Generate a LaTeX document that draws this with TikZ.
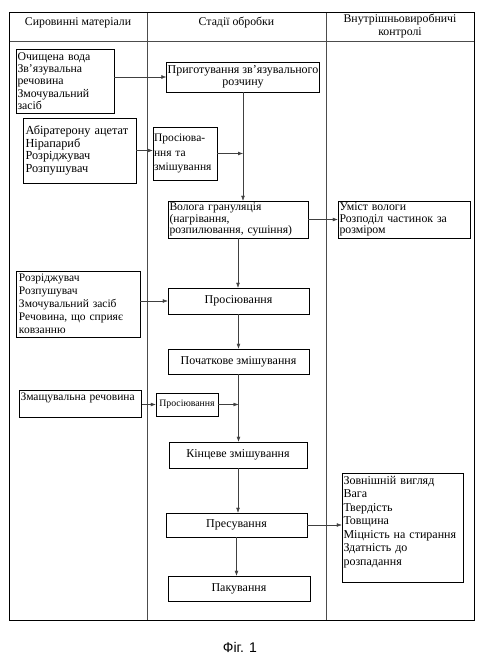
\documentclass[tikz,border=0pt]{standalone}
\usepackage{fontspec}
\setmainfont{Liberation Serif}
\newfontfamily\figfont{Liberation Sans}
\usetikzlibrary{arrows.meta, positioning}

\tikzset{
    stage/.style={draw=black, line width=0.5pt, inner sep=1pt, align=center},
    leftbox/.style={draw=black, line width=0.5pt, inner xsep=1.5pt, inner ysep=1pt, align=left},
    flow/.style={-{Latex[length=5pt, width=3.8pt]}, draw=black!75, line width=0.45pt},
    grid/.style={draw=black!70, line width=0.45pt},
    colhead/.style={align=center}
}

\begin{document}
\begin{tikzpicture}[x=1pt, y=-1pt, font=\fontsize{12}{12.8}\selectfont]
    \useasboundingbox (0,0) rectangle (486,664);

    % table frame and columns
    \draw[line width=0.9pt] (9.5,12.5) rectangle (474,620);
    \draw[grid] (9.5,41) -- (474,41);
    \draw[grid] (147,12.5) -- (147,620);
    \draw[grid] (326.5,12.5) -- (326.5,620);

    \node[colhead, font=\fontsize{11.8}{13}\selectfont] (h1) at (78,23) {Сировинні матеріали};
    \node[colhead, font=\fontsize{11.8}{13}\selectfont] (h2) at (236.5,23) {Стадії обробки};
    \node[colhead, font=\fontsize{11.8}{13}\selectfont] (h3) at (400,26.5) {Внутрішньовиробничі\\контролі};

    % raw materials
    \node[leftbox, text width=95pt, minimum height=64pt, font=\fontsize{11.8}{12.4}\selectfont] (boxA) at (65,81) {Очищена вода\\Зв’язувальна\\речовина\\Змочувальний\\засіб};
    \node[leftbox, inner xsep=2.5pt, text width=108pt, minimum height=65pt, font=\fontsize{12.3}{12.8}\selectfont] (boxB) at (79.5,150.5) {Абіратерону ацетат\\Нірапариб\\Розріджувач\\Розпушувач};
    \node[leftbox, inner xsep=3pt, text width=118pt, minimum height=66pt, font=\fontsize{11.5}{13}\selectfont] (boxC) at (78,304) {Розріджувач\\Розпушувач\\Змочувальний засіб\\Речовина, що сприяє\\ковзанню};
    \node[leftbox, anchor=north, inner xsep=1pt, text width=120pt, text height=9pt, text depth=16pt, font=\fontsize{11.5}{13}\selectfont] (boxD) at (80.5,390) {Змащувальна речовина};

    % processing stages
    \node[stage, minimum width=148pt, minimum height=30pt, font=\fontsize{12}{12.5}\selectfont] (prep) at (243,77) {Приготування зв’язувального\\розчину};
    \node[leftbox, inner xsep=1pt, text width=62pt, minimum height=53pt, font=\fontsize{11.5}{14.5}\selectfont] (sieveA) at (185,153.5) {Просіюва-\\ння та\\змішування};
    \node[leftbox, text width=137pt, minimum height=37pt, font=\fontsize{11.6}{11.8}\selectfont] (wet) at (238,219.5) {Волога грануляція\\(нагрівання,\\розпилювання, сушіння)};
    \node[stage, minimum width=141pt, minimum height=26pt] (sieveB) at (238.5,301) {Просіювання};
    \node[stage, minimum width=141pt, minimum height=25pt] (premix) at (238.5,361.5) {Початкове змішування};
    \node[stage, minimum width=62pt, minimum height=23pt, inner sep=0pt, font=\fontsize{9.8}{11}\selectfont] (sieveC) at (187,404.5) {Просіювання};
    \node[stage, minimum width=138pt, minimum height=26pt] (finalmix) at (238,455) {Кінцеве змішування};
    \node[stage, minimum width=141pt, minimum height=24pt] (press) at (236.5,525) {Пресування};
    \node[stage, minimum width=142pt, minimum height=25pt] (pack) at (239,588.5) {Пакування};

    % in-process controls
    \node[leftbox, text width=129pt, minimum height=37pt, font=\fontsize{11.8}{11.8}\selectfont] (moist) at (404,219.5) {Уміст вологи\\Розподіл частинок за\\розміром};
    \node[leftbox, anchor=north, text width=118pt, text height=10pt, text depth=97pt, font=\fontsize{12}{13.5}\selectfont] (quality) at (402.5,473) {Зовнішній вигляд\\Вага\\Твердість\\Товщина\\Міцність на стирання\\Здатність до\\розпадання};

    % connectors
    \draw[flow] (boxA.east |- prep.west) -- (prep.west);
    \draw[flow] (prep.south) -- (prep.south |- wet.north);
    \draw[flow] (boxB.east) -- (boxB.east -| sieveA.west);
    \draw[flow] (sieveA.east) -- (sieveA.east -| prep.south);
    \draw[flow] (wet.east) -- (wet.east -| moist.west);
    \draw[flow] (wet.south) -- (wet.south |- sieveB.north);
    \draw[flow] (boxC.east |- sieveB.west) -- (sieveB.west);
    \draw[flow] (sieveB.south) -- (sieveB.south |- premix.north);
    \draw[flow] (premix.south) -- (premix.south |- finalmix.north);
    \draw[flow] (boxD.east |- sieveC.west) -- (sieveC.west);
    \draw[flow] (sieveC.east) -- (sieveC.east -| premix.south);
    \draw[flow] (finalmix.south) -- (finalmix.south |- press.north);
    \draw[flow] (press.east) -- (press.east -| quality.west);
    \draw[flow] (press.south) -- (press.south |- pack.north);

    \node[font=\figfont\fontsize{14}{16}\selectfont] (fig) at (240,647) {Фіг. 1};
\end{tikzpicture}
\end{document}
